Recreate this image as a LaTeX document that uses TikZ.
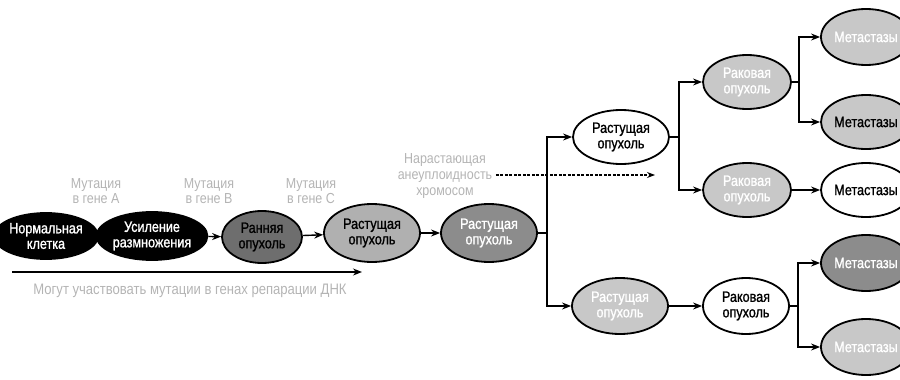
\documentclass[tikz,border=0pt]{standalone}
\usepackage{fontspec}
\setmainfont[FakeStretch=0.86]{Liberation Sans}
\newfontfamily\elfont[FakeStretch=0.84,FakeBold=1.2]{Liberation Sans}
\usetikzlibrary{shapes.geometric,arrows.meta}
\definecolor{lbl}{HTML}{B4B4B4}
\definecolor{g1}{HTML}{C8C8C8}
\definecolor{g2}{HTML}{B0B0B0}
\definecolor{g3}{HTML}{8C8C8C}
\definecolor{g4}{HTML}{6E6E6E}
\begin{document}
\begin{tikzpicture}[x=1pt,y=-1pt,
  el/.style={ellipse,draw=black,line width=1.8pt,inner sep=0pt,align=center,
     font=\elfont\fontsize{15}{15.5}\selectfont,minimum width=#1},
  el/.default=92pt,
  lab/.style={text=lbl,align=center,font=\fontsize{14.5}{15}\selectfont},
  con/.style={line width=1.4pt},
  arr/.style={line width=1.4pt,-{Stealth[length=9pt,width=7pt]}}]
\useasboundingbox (0,0) rectangle (900,380);
\clip (0,0) rectangle (900,380);
% main chain
\node[el=86pt,minimum height=46pt,fill=black,text=white] (n1) at (46,236) {Нормальная\\клетка};
\node[el=92pt,minimum height=48pt,fill=black,text=white] (n2) at (152,236) {Усиление\\размножения};
\node[el=80pt,minimum height=52pt,fill=g4,text=black] (n3) at (262,237) {Ранняя\\опухоль};
\node[el=96pt,minimum height=58pt,fill=g2,text=black] (n4) at (372,233) {Растущая\\опухоль};
\node[el=96pt,minimum height=58pt,fill=g3,text=white] (n5) at (489,233) {Растущая\\опухоль};
% branches
\node[el=96pt,minimum height=54pt,fill=white,text=black] (t1) at (621,137) {Растущая\\опухоль};
\node[el=96pt,minimum height=56pt,fill=g1,text=white] (b1) at (620,306) {Растущая\\опухоль};
\node[el=88pt,minimum height=54pt,fill=g1,text=white] (r1) at (747,82) {Раковая\\опухоль};
\node[el=88pt,minimum height=54pt,fill=g1,text=white] (r2) at (747,190) {Раковая\\опухоль};
\node[el=86pt,minimum height=56pt,fill=white,text=black] (r3) at (746,306) {Раковая\\опухоль};
\node[el=90pt,minimum height=56pt,fill=g1,text=white] (m1) at (866,37) {Метастазы};
\node[el=90pt,minimum height=54pt,fill=g1,text=black] (m2) at (866,122) {Метастазы};
\node[el=90pt,minimum height=54pt,fill=white,text=black] (m3) at (866,190) {Метастазы};
\node[el=90pt,minimum height=56pt,fill=g3,text=white] (m4) at (866,263) {Метастазы};
\node[el=90pt,minimum height=56pt,fill=g1,text=white] (m5) at (866,347) {Метастазы};
% labels
\node[lab] (la) at (96,191) {Мутация\\в гене A};
\node[lab] (lb) at (209,191) {Мутация\\в гене B};
\node[lab] (lc) at (311,191) {Мутация\\в гене C};
\node[lab,font=\fontsize{14.5}{16}\selectfont] (an) at (445,176) {Нарастающая\\анеуплоидность\\хромосом};
\node[lab,font=\fontsize{15.2}{16}\selectfont] (rep) at (190,291) {Могут участвовать мутации в генах репарации ДНК};
% junctions
\coordinate (j1) at (547,233);
\coordinate (j2) at (679,137);
\coordinate (j3) at (799,82);
\coordinate (j4) at (798,306);
\coordinate (d1) at (655,175);
\coordinate (a0) at (12,272);
\coordinate (a1) at (362,272);
% connectors
\draw[arr] (n1) -- (n2);
\draw[arr] (n2) -- (n3);
\draw[arr] (n3) -- (n4);
\draw[arr] (n4) -- (n5);
\draw[con] (n5.east) -- (j1);
\draw[arr] (j1) |- (t1.west);
\draw[arr] (j1) |- (b1.west);
\draw[con] (t1.east) -- (j2);
\draw[arr] (j2) |- (r1.west);
\draw[arr] (j2) |- (r2.west);
\draw[con] (r1.east) -- (j3);
\draw[arr] (j3) |- (m1.west);
\draw[arr] (j3) |- (m2.west);
\draw[arr] (r2) -- (m3);
\draw[arr] (b1) -- (r3);
\draw[con] (r3.east) -- (j4);
\draw[arr] (j4) |- (m4.west);
\draw[arr] (j4) |- (m5.west);
\draw[line width=1.2pt,dash pattern=on 3pt off 1.5pt,-{Stealth[length=8pt,width=6pt]}] (an.east |- d1) -- (d1);
\draw[arr] (a0) -- (a1);
\end{tikzpicture}
\end{document}
